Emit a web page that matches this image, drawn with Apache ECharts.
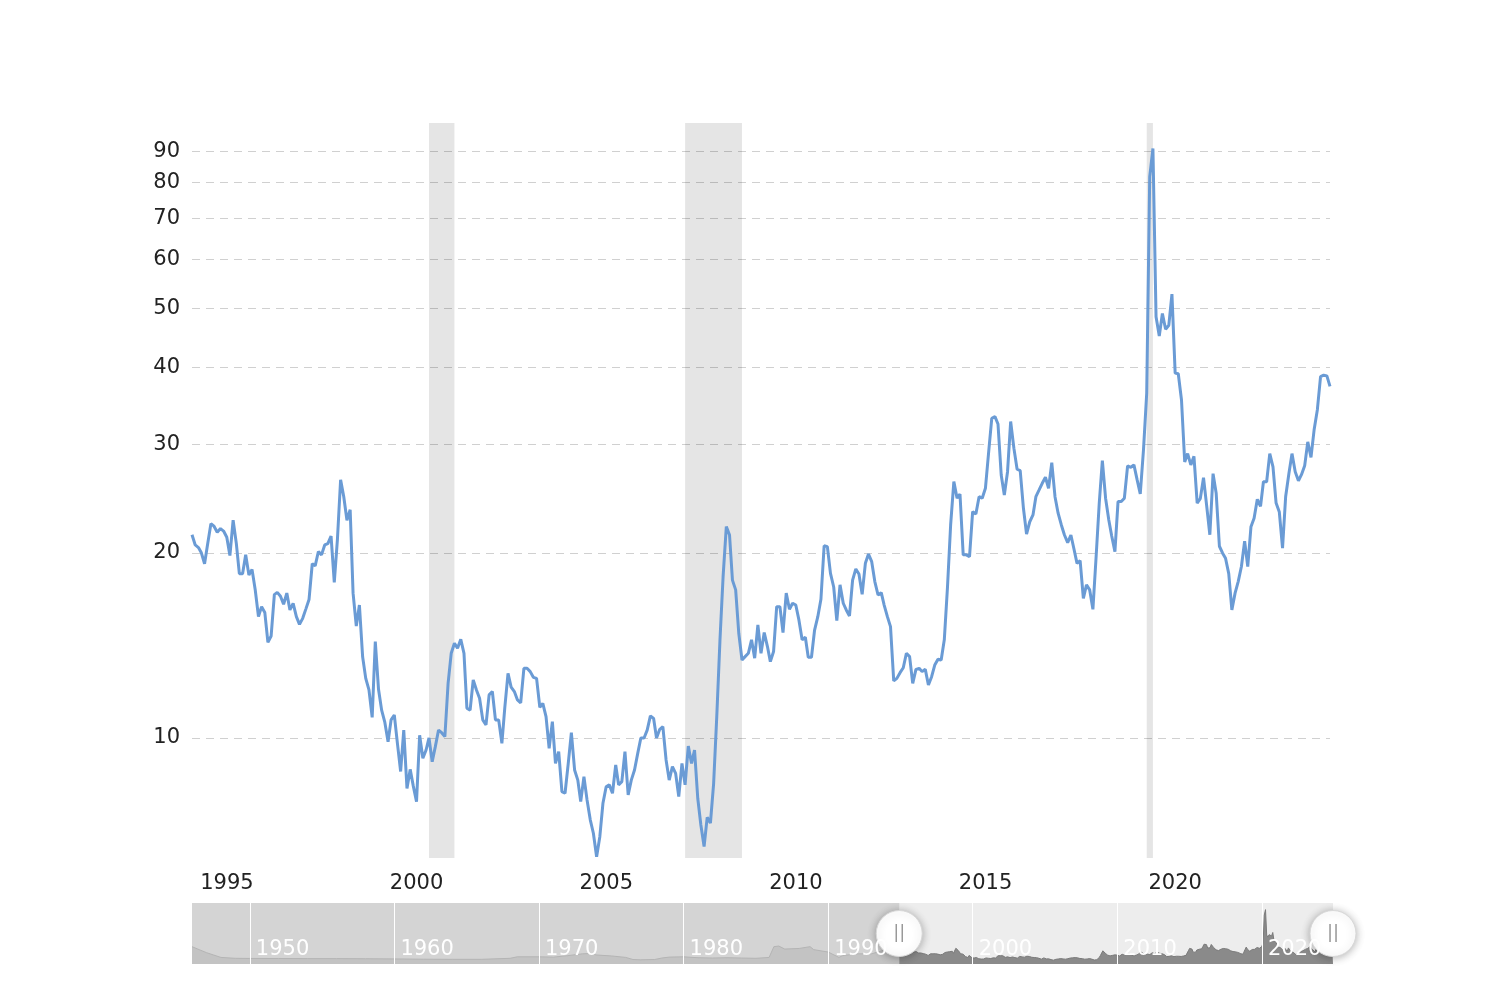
<!DOCTYPE html>
<html><head><meta charset="utf-8">
<script src="https://cdn.jsdelivr.net/npm/echarts@6/dist/echarts.min.js"></script>
<style>html,body{margin:0;padding:0;background:#fff}#chart{width:1491px;height:997px}</style>
</head><body><div id="chart"></div>
<script>
// Monthly gold-to-oil ratio, first value = Dec 1994
const ratio1994to1999 = [21.4, 20.6, 20.4, 20.0, 19.2, 20.7, 22.3, 22.1, 21.6, 21.9, 21.7, 21.2, 19.8,
  22.6, 20.7, 18.5, 18.5, 19.85, 18.4, 18.8, 17.4, 15.75, 16.35, 16.0, 14.3,
  14.65, 17.1, 17.25, 17.0, 16.5, 17.2, 16.15, 16.55, 15.75, 15.3, 15.65, 16.2,
  16.8, 19.2, 19.05, 20.1, 19.85, 20.6, 20.7, 21.3, 17.9, 21.0, 26.3, 24.7,
  22.6, 23.5, 17.2, 15.2, 16.45, 13.55, 12.5, 11.97, 10.8, 14.35, 12.0, 11.1];
const ratio2000to2004 = [10.6, 9.86, 10.7, 10.9, 9.8, 8.82, 10.3, 8.28, 8.89, 8.35, 7.88, 10.1,
  9.27, 9.56, 10.0, 9.15, 9.68, 10.3, 10.2, 10.05, 12.27, 13.73, 14.26, 13.99,
  14.47, 13.73, 11.18, 11.1, 12.43, 11.97, 11.6, 10.7, 10.5, 11.75, 11.9, 10.7,
  10.7, 9.8, 11.2, 12.74, 12.1, 11.9, 11.53, 11.4, 12.98, 12.98, 12.82, 12.55,
  12.5, 11.22, 11.38, 10.83, 9.62, 10.63, 9.09, 9.5, 8.18, 8.13, 9.09, 10.2];
const ratio2005to2009 = [8.87, 8.54, 7.88, 8.65, 7.93, 7.36, 7.0, 6.41, 6.91, 7.83, 8.33, 8.39,
  8.13, 9.04, 8.39, 8.49, 9.5, 8.08, 8.54, 8.87, 9.44, 10.0, 10.0, 10.3,
  10.86, 10.76, 10.0, 10.33, 10.43, 9.21, 8.54, 8.98, 8.76, 8.03, 9.09, 8.39,
  9.7, 9.09, 9.56, 7.98, 7.22, 6.66, 7.43, 7.27, 8.44, 10.83, 14.44, 18.29,
  22.06, 21.38, 18.06, 17.41, 14.8, 13.39, 13.56, 13.73, 14.44, 13.48, 15.27, 13.73];
const ratio2010to2014 = [14.84, 14.08, 13.31, 13.82, 16.35, 16.35, 14.84, 17.2, 16.19, 16.56, 16.45, 15.56,
  14.44, 14.58, 13.53, 13.53, 14.98, 15.75, 16.81, 20.54, 20.47, 18.52, 17.6, 15.52,
  17.74, 16.56, 16.15, 15.79, 18.06, 18.83, 18.48, 17.12, 19.23, 19.91, 19.35, 17.96,
  17.08, 17.23, 16.45, 15.75, 15.17, 12.38, 12.5, 12.77, 13.01, 13.73, 13.56, 12.27,
  12.93, 12.98, 12.82, 12.93, 12.19, 12.58, 13.14, 13.43, 13.39, 14.44, 17.62, 22.2];
const ratio2015to2019 = [26.11, 24.54, 24.93, 19.85, 19.85, 19.72, 23.33, 23.13, 24.68, 24.54, 25.47, 29.03,
  33.1, 33.3, 32.4, 26.77, 24.84, 27.1, 32.7, 29.6, 27.35, 27.2, 23.63, 21.46,
  22.47, 23.05, 24.68, 25.31, 25.95, 26.54, 25.47, 28.04, 24.68, 23.2, 22.2, 21.38,
  20.78, 21.38, 20.35, 19.23, 19.43, 16.87, 17.74, 17.41, 16.19, 19.6, 24.08, 28.25,
  24.54, 22.62, 21.3, 20.09, 24.23, 24.23, 24.54, 27.69, 27.55, 27.8, 26.28, 24.93];
const ratio2020to2024 = [29.4, 36.35, 81.8, 90.9, 48.4, 45.05, 49.0, 46.2, 46.9, 52.7, 39.2, 39.1,
  35.45, 28.1, 29.0, 27.8, 28.7, 24.1, 24.5, 26.5, 23.8, 21.4, 26.9, 25.0,
  20.5, 19.97, 19.6, 18.5, 16.15, 17.2, 17.96, 19.0, 20.9, 19.0, 22.06, 22.76,
  24.44, 23.8, 26.1, 26.1, 29.0, 27.6, 24.1, 23.3, 20.35, 24.7, 26.9, 29.0,
  27.1, 26.2, 26.8, 27.7, 30.3, 28.6, 31.7, 34.15, 38.7, 38.9, 38.8, 37.3];

// Earlier history (navigator only), read coarsely from the navigator: [year, month]
const historyMonths = [[1946,1],[1946,7],[1947,1],[1947,7],[1948,1],[1949,1],[1950,1],[1952,1],[1954,1],[1956,1],[1958,1],[1960,1],[1962,1],[1964,1],[1966,1],[1968,1],[1968,7],[1970,1],[1971,1],[1972,1],[1973,1],[1973,7],[1974,1],[1975,1],[1976,1],[1976,7],[1977,1],[1978,1],[1978,7],[1979,1],[1980,1],[1981,1],[1982,1],[1983,1],[1984,1],[1985,1],[1985,12],[1986,4],[1986,8],[1987,1],[1988,1],[1988,10],[1989,1],[1990,1],[1990,10],[1991,1],[1992,1],[1993,1],[1994,1],[1994,7]];
const historyValues = [29, 24, 19, 15, 11, 9.5, 9.3, 9.2, 9.0, 9.0, 8.8, 8.5, 8.0, 7.8, 7.8, 9.5, 12, 12, 11.5, 14, 17, 17.5, 15, 13.5, 11, 7.5, 7, 7.5, 10, 11.5, 12, 10.5, 10, 10.5, 10, 9.5, 11, 29, 30, 25, 26, 29, 24, 20, 11, 14, 17, 17, 24, 20];

const recessionStarts = [[2001, 3], [2007, 12], [2020, 2]];
const recessionEnds   = [[2001, 11], [2009, 6], [2020, 4]];
const yTicks = [10, 20, 30, 40, 50, 60, 70, 80, 90];
const xLabelYears = [1995, 2000, 2005, 2010, 2015, 2020];
const navLabelYears = [1950, 1960, 1970, 1980, 1990, 2000, 2010, 2020];

const ts = (y, m) => Date.UTC(y, m - 1, 1);
const ratio = [].concat(ratio1994to1999, ratio2000to2004, ratio2005to2009, ratio2010to2014, ratio2015to2019, ratio2020to2024);
const mainData = ratio.map((v, i) => [Date.UTC(1994, 11 + i, 1), v]);
const viewStart = mainData[0][0];
const viewEnd = mainData[mainData.length - 1][0];
const navStart = ts(1946, 1);
const navMax = 102;
const historyData = historyMonths.map((ym, i) => [ts(ym[0], ym[1]), historyValues[i]]).concat([mainData[0]]);
const yearLabel = v => String(new Date(v).getUTCFullYear());
const font = 'DejaVu Sans';

const chart = echarts.init(document.getElementById('chart'));
chart.setOption({
  animation: false,
  backgroundColor: '#fff',
  grid: [
    { left: 192, right: 161, top: 123, bottom: 139 },
    { left: 192, right: 158, top: 903, height: 61, show: true, backgroundColor: '#ededed', borderWidth: 0 }
  ],
  xAxis: [
    {
      type: 'value', gridIndex: 0, min: viewStart, max: viewEnd,
      axisLine: { show: false }, splitLine: { show: false },
      axisTick: { show: false, customValues: xLabelYears.map(y => ts(y, 1)) },
      axisLabel: {
        customValues: xLabelYears.map(y => ts(y, 1)),
        formatter: yearLabel,
        align: 'left', padding: [0, 0, 0, 5], margin: 15,
        fontSize: 21, color: '#222', fontFamily: font
      }
    },
    {
      type: 'value', gridIndex: 1, min: navStart, max: viewEnd, z: 5,
      axisLine: { show: false }, splitLine: { show: false },
      axisTick: { show: true, inside: true, length: 61, lineStyle: { color: '#fff', width: 1 }, customValues: navLabelYears.map(y => ts(y, 1)) },
      axisLabel: {
        inside: true, customValues: navLabelYears.map(y => ts(y, 1)),
        formatter: yearLabel,
        align: 'left', padding: [0, 0, 0, 6], margin: 4,
        fontSize: 21, color: '#fff', fontFamily: font
      }
    }
  ],
  yAxis: [
    {
      type: 'log', logBase: 10, gridIndex: 0, min: 6.38, max: 100,
      axisLine: { show: false },
      axisTick: { show: false, customValues: yTicks },
      axisLabel: { customValues: yTicks, margin: 12, fontSize: 21, color: '#222', fontFamily: font },
      splitLine: { show: true, lineStyle: { color: '#d0d0d0', type: [8, 6], width: 1 } },
      minorSplitLine: { show: false }
    },
    { type: 'value', gridIndex: 1, min: 0, max: navMax, show: false }
  ],
  series: [
    {
      name: 'Ratio', type: 'line', xAxisIndex: 0, yAxisIndex: 0,
      data: mainData, showSymbol: false, symbol: 'none',
      lineStyle: { color: '#6a9bd5', width: 3 },
      markArea: {
        silent: true,
        itemStyle: { color: 'rgba(0,0,0,0.1)' },
        data: recessionStarts.map((s, i) => [{ xAxis: ts(s[0], s[1]) }, { xAxis: ts(recessionEnds[i][0], recessionEnds[i][1]) }])
      }
    },
    {
      name: 'History', type: 'line', xAxisIndex: 1, yAxisIndex: 1,
      data: historyData, showSymbol: false, symbol: 'none',
      lineStyle: { color: '#b4b4b4', width: 1 },
      areaStyle: { color: '#c3c3c3', opacity: 1 },
      markArea: {
        silent: true,
        itemStyle: { color: '#d4d4d4' },
        data: [[{ xAxis: navStart }, { xAxis: viewStart }]]
      }
    },
    {
      name: 'Navigator', type: 'line', xAxisIndex: 1, yAxisIndex: 1, clip: false,
      data: mainData, showSymbol: false, symbol: 'none',
      lineStyle: { color: '#7a7a7a', width: 1 },
      areaStyle: { color: '#8a8a8a', opacity: 1 },
      markPoint: {
        silent: true,
        symbol: 'circle', symbolSize: 46,
        itemStyle: { color: '#fff', borderColor: '#d8d8d8', borderWidth: 1, shadowBlur: 8, shadowColor: 'rgba(0,0,0,0.3)', shadowOffsetY: 1 },
        label: { show: true, formatter: '||', color: '#999', fontSize: 18, fontFamily: font },
        data: [{ coord: [viewStart, navMax / 2] }, { coord: [viewEnd, navMax / 2] }]
      }
    }
  ]
});
</script></body></html>
